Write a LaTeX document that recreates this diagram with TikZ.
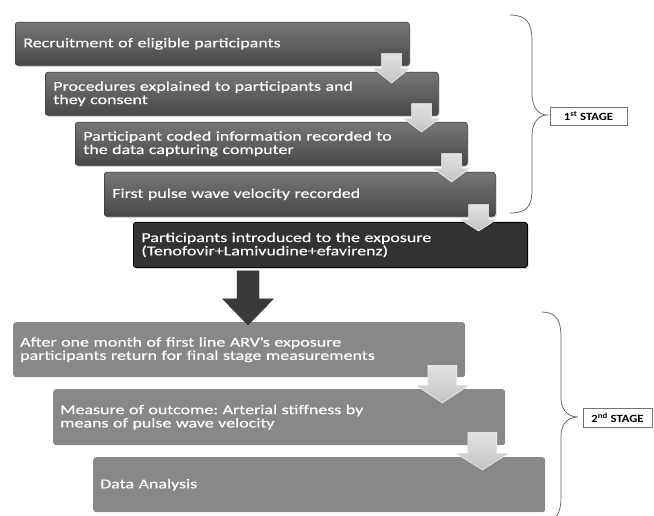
\documentclass[tikz,border=0pt]{standalone}
\usepackage{fontspec}
\setmainfont{Carlito}[FakeStretch=1.33, FakeBold=0.4]
\newfontfamily\labfont{Carlito}[FakeStretch=1.15]
\usetikzlibrary{calc,shadows}
\frenchspacing
\definecolor{stopc}{RGB}{118,118,118}
\definecolor{sbotc}{RGB}{72,72,72}
\definecolor{sedge}{RGB}{55,55,55}
\definecolor{darkbox}{RGB}{50,50,50}
\definecolor{twobox}{RGB}{136,136,136}
\definecolor{arrtop}{RGB}{226,226,226}
\definecolor{arrbot}{RGB}{196,196,196}
\definecolor{bigarr}{RGB}{58,58,58}
\definecolor{bracec}{RGB}{90,90,90}
\newcommand{\steparrow}[8]{%
  \filldraw[garrow] let \p1=(#1.south east), \p2=(#2.north) in
   (\x1-#3-#4,\y1+#6) -- (\x1-#3+#4,\y1+#6) -- (\x1-#3+#4,\y1-#7) -- (\x1-#3+#5,\y1-#7)
   -- (\x1-#3,\y2-#8) -- (\x1-#3-#5,\y1-#7) -- (\x1-#3-#4,\y1-#7) -- cycle;}
\begin{document}
\begin{tikzpicture}[x=1pt,y=-1pt,
  base/.style={anchor=north west, align=left, text=white, inner xsep=8pt,
    font=\fontsize{13.5}{13.3}\selectfont},
  oneb/.style={base, rounded corners=2.5pt, draw=sedge, line width=0.6pt,
    top color=stopc, bottom color=sbotc,
    drop shadow={opacity=0.35, shadow xshift=1.2pt, shadow yshift=-1.5pt}},
  fiveb/.style={base, rounded corners=2.5pt, draw=black, line width=0.8pt, fill=darkbox,
    drop shadow={opacity=0.35, shadow xshift=1.2pt, shadow yshift=-1.5pt}},
  twob/.style={base, rounded corners=3pt, fill=twobox, inner xsep=7pt},
  garrow/.style={top color=arrtop, bottom color=arrbot, draw=white, line width=0.5pt},
  bigarrow/.style={fill=bigarr, draw=bigarr!80!black, line width=0.4pt},
  bracel/.style={draw=bracec, line width=0.7pt},
  stagel/.style={draw=black!55, line width=0.6pt, fill=white, inner sep=0pt,
    font=\labfont\bfseries\fontsize{11}{11}\selectfont}
]
\useasboundingbox (0,0) rectangle (654,516);

% stage 1 boxes
\node[oneb, minimum width=394pt, minimum height=43pt, text width=378pt] (b1) at (15,22)
  {Recruitment of eligible participants};
\node[oneb, minimum width=393pt, minimum height=43pt, text width=377pt] (b2) at (45,72)
  {Procedures explained to participants and\\they consent};
\node[oneb, minimum width=392pt, minimum height=43pt, text width=376pt] (b3) at (75,122)
  {Participant coded information recorded to\\the data capturing computer};
\node[oneb, minimum width=391pt, minimum height=44pt, text width=375pt] (b4) at (104,172)
  {First pulse wave velocity recorded};
\node[fiveb, minimum width=394pt, minimum height=45pt, text width=378pt] (b5) at (133,222)
  {Participants introduced to the exposure\\(Tenofovir+Lamivudine+efavirenz)};

% stage 2 boxes
\node[twob, minimum width=452pt, minimum height=55pt, text width=438pt] (b6) at (13,322)
  {After one month of first line ARV\textquotesingle s exposure\\participants return for final stage measurements};
\node[twob, minimum width=452pt, minimum height=56pt, text width=438pt] (b7) at (53,389)
  {Measure of outcome: Arterial stiffness by\\means of pulse wave velocity};
\node[twob, minimum width=452pt, minimum height=55pt, text width=438pt] (b8) at (93,457)
  {Data Analysis};

% step arrows stage 1
\steparrow{b1}{b2}{18}{10}{18}{12}{3}{11}
\steparrow{b2}{b3}{17}{10}{18}{12}{3}{10}
\steparrow{b3}{b4}{16}{10}{18}{12}{3}{10}
\steparrow{b4}{b5}{17}{10}{18}{12}{3}{9}
% step arrows stage 2
\steparrow{b6}{b7}{23}{14.5}{26.5}{12}{8}{14}
\steparrow{b7}{b8}{23}{14.5}{26.5}{13}{8}{13}

% big dark arrow
\filldraw[bigarrow] let \p1=(b5.south west), \p2=(b6.north) in
  (\x1+104,\y1-3) -- (\x1+126,\y1-3) -- (\x1+126,\y1-31) -- (\x1+140.5,\y1-31)
  -- (\x1+115,\y2-3) -- (\x1+89.5,\y1-31) -- (\x1+104,\y1-31) -- cycle;

% stage labels
\node[stagel, minimum width=77pt, minimum height=18pt] (s1) at (588.5,116) {1\textsuperscript{st} STAGE};
\node[stagel, minimum width=69pt, minimum height=19pt] (s2) at (617.5,417.5) {2\textsuperscript{nd} STAGE};

% braces
\draw[bracel] (510,15) .. controls (527,15) and (532,24) .. (532,40) -- (532,94)
  .. controls (532,108) and (539,115) .. (547,115)
  .. controls (539,115) and (532,122) .. (532,136) -- (532,190)
  .. controls (532,206) and (527,213) .. (510,213);
\draw[bracel] (542,312) .. controls (556,312) and (561,321) .. (561,336) -- (561,398)
  .. controls (561,411) and (569,417) .. (578,417)
  .. controls (569,417) and (561,423) .. (561,436) -- (561,498)
  .. controls (561,513) and (556,522) .. (542,522);
\end{tikzpicture}
\end{document}
